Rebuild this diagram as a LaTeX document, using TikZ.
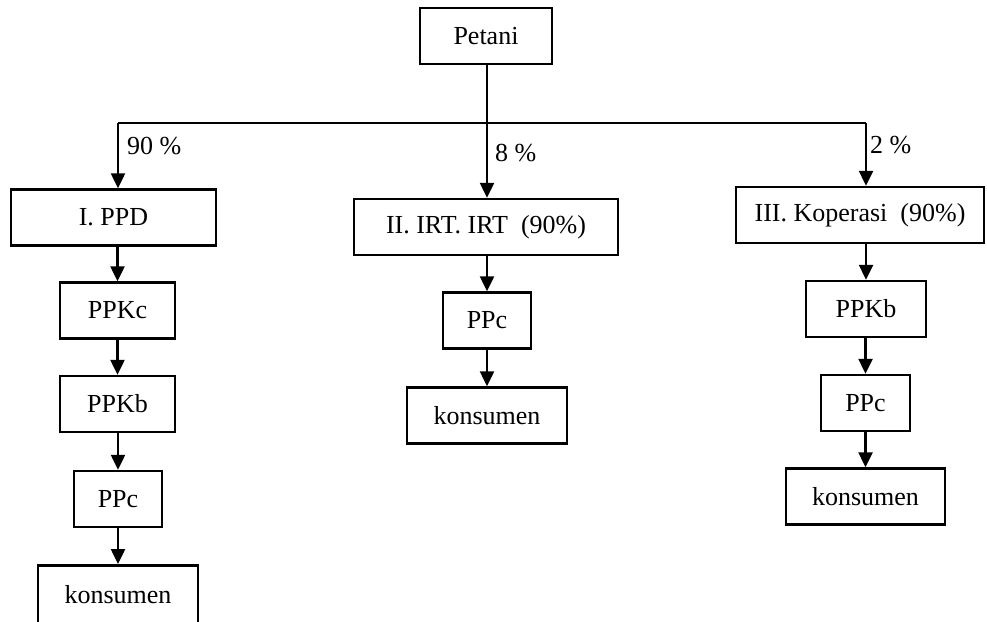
\documentclass[tikz,border=0pt]{standalone}
\usepackage{fontspec}
\setmainfont{Liberation Serif}
\usetikzlibrary{arrows.meta, calc, positioning}

\begin{document}
\begin{tikzpicture}[x=1pt, y=-1pt,
				texts/.style = {text=black, font=\fontsize{26}{30}\selectfont},
				box/.style = {texts, rectangle, draw=black, line width=2.5pt, inner sep=0pt, minimum height=56pt},
				link/.style = {draw=black, line width=2.5pt},
				flow/.style = {link, -{Triangle[width=14pt, length=15pt]}},
				pct/.style = {texts, anchor=west, inner sep=0pt}
				]
				\useasboundingbox (0,0) rectangle (987,621);
				
				\node[box, minimum width=132pt] (petani) at (486,36) {Petani};
				
				% I
				\node[box, minimum width=205pt] (ppd) at (113.5,217.5) {I. PPD};
				\node[box, minimum width=115pt] (ppkcL) at (117.5,310.5) {PPKc};
				\node[box, minimum width=115pt] (ppkbL) at (117.5,404) {PPKb};
				\node[box, minimum width=88pt] (ppcL) at (118,499) {PPc};
				\node[box, minimum width=160pt, minimum height=0pt, anchor=north, inner ysep=18pt,
					text height=20pt, text depth=40pt] (konsL) at (118,564) {konsumen};
				
				% II
				\node[box, minimum width=264pt] (irt) at (486,227) {II. IRT. IRT~~(90\%)};
				\node[box, minimum width=88pt] (ppcM) at (487,320.5) {PPc};
				\node[box, minimum width=160pt] (konsM) at (487,415.5) {konsumen};
				
				% III
				\node[box, minimum width=248pt] (kop) at (860,215) {III. Koperasi~~(90\%)};
				\node[box, minimum width=120pt] (ppkbR) at (866,309) {PPKb};
				\node[box, minimum width=89pt] (ppcR) at (865.5,403) {PPc};
				\node[box, minimum width=159pt] (konsR) at (865.5,496.5) {konsumen};
				
				\coordinate (jL) at (118,123);
				\coordinate (jM) at (487,123);
				\coordinate (jR) at (866,123);
				
				\draw[link] (jL) -- (jR);
				\draw[flow] (petani.south -| jM) -- (jM |- irt.north);
				\draw[flow] (jL) -- (jL |- ppd.north);
				\draw[flow] (jR) -- (jR |- kop.north);
				
				\node[pct] (pctL) at (127,146) {90 \%};
				\node[pct] (pctM) at (495,153) {8 \%};
				\node[pct] (pctR) at (870,145) {2 \%};
				
				\draw[flow] (ppd.south -| ppkcL) -- (ppkcL);
				\draw[flow] (ppkcL) -- (ppkbL);
				\draw[flow] (ppkbL.south -| ppcL) -- (ppcL);
				\draw[flow] (ppcL.south) -- (konsL.north);
				\draw[flow] (irt.south -| ppcM) -- (ppcM);
				\draw[flow] (ppcM) -- (konsM);
				\draw[flow] (kop.south -| ppkbR) -- (ppkbR);
				\draw[flow] (ppkbR.south -| ppcR) -- (ppcR);
				\draw[flow] (ppcR) -- (konsR);
\end{tikzpicture}
\end{document}
